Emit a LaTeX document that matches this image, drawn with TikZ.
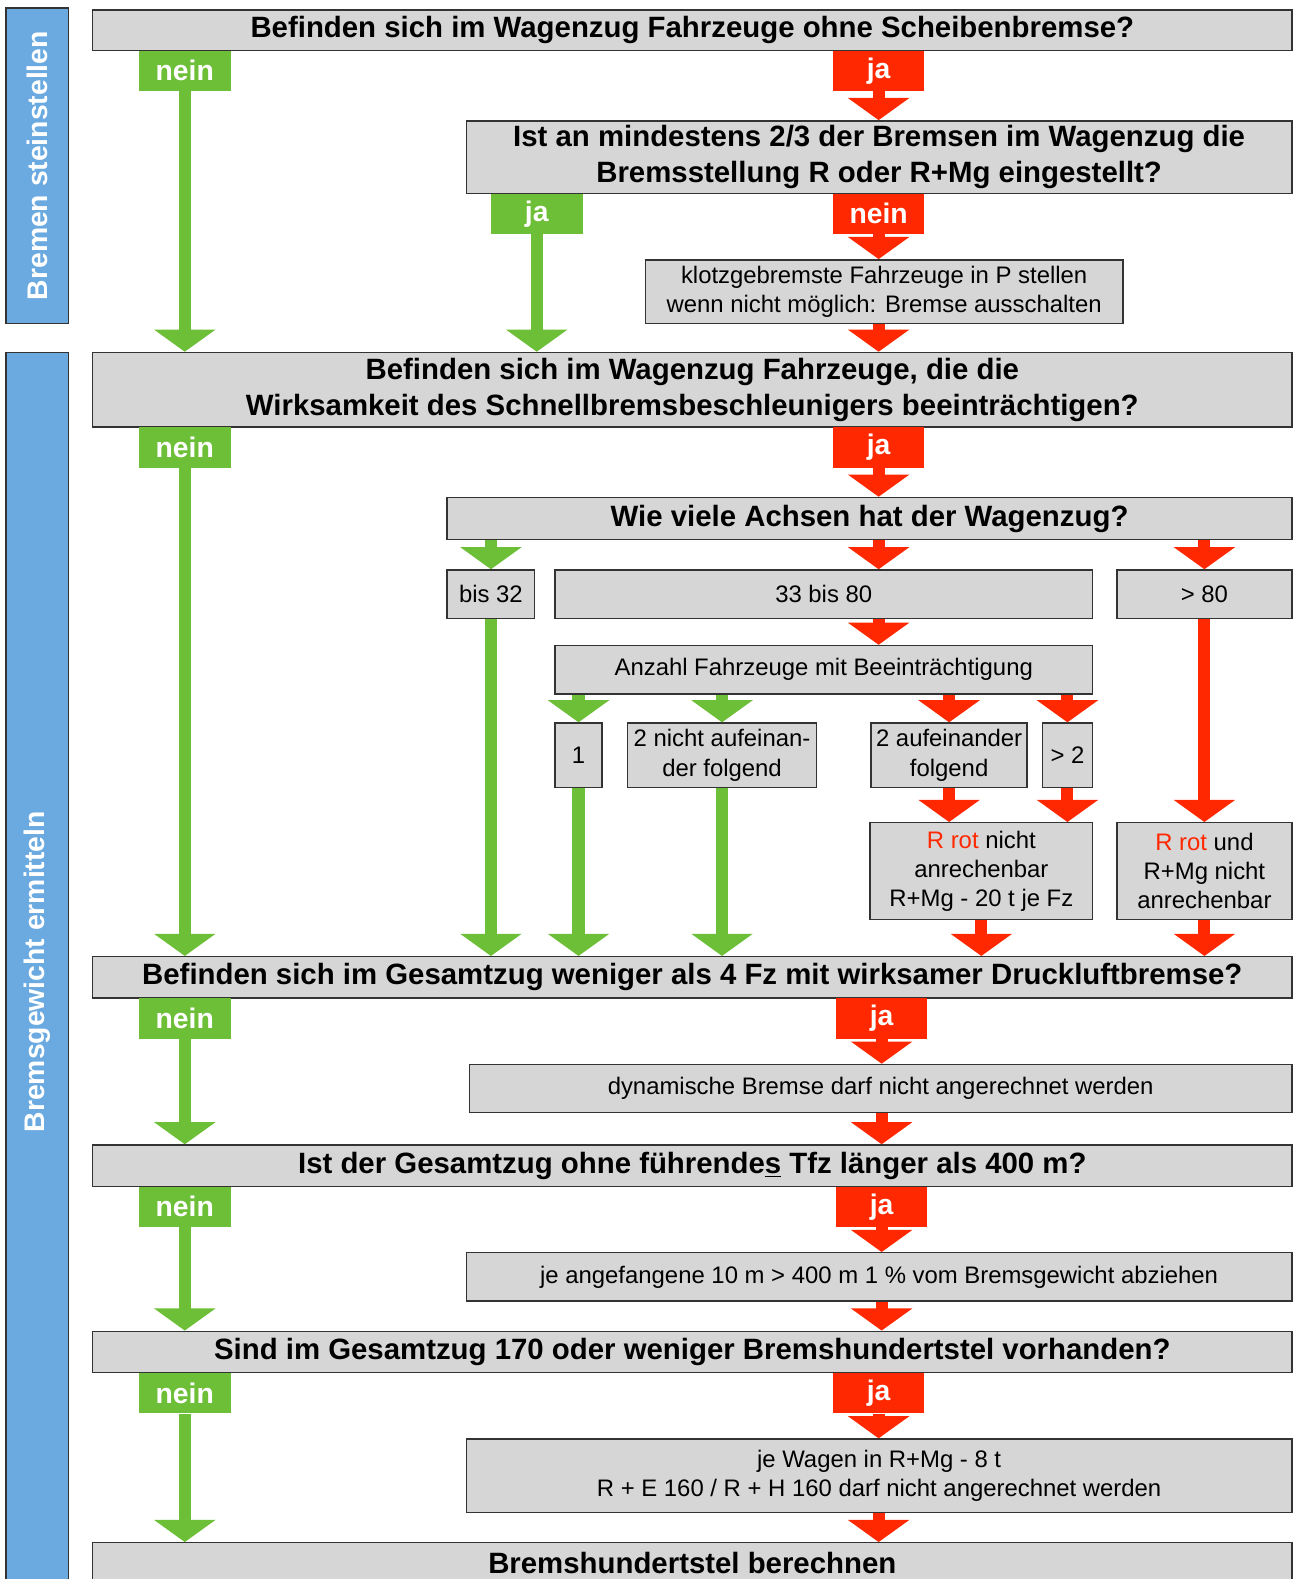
\documentclass[tikz,border=0pt]{standalone}
\usepackage{fontspec}
\setmainfont{Liberation Sans}
\usepackage{tikz}
\usetikzlibrary{arrows.meta}
\definecolor{boxfill}{HTML}{D6D6D6}
\definecolor{boxline}{HTML}{333333}
\definecolor{greenok}{HTML}{6CBF37}
\definecolor{redstop}{HTML}{FF2800}
\definecolor{phaseblue}{HTML}{6AAAE0}

\begin{document}
\begin{tikzpicture}[
    box/.style={rectangle, draw=boxline, fill=boxfill, line width=0.8pt, align=center, inner sep=0pt, font=\fontsize{13.5}{16.5}\selectfont},
    question/.style={box, font=\bfseries\fontsize{16.6}{20.2}\selectfont},
    phase/.style={rectangle, draw=boxline, fill=phaseblue, line width=0.8pt, text=white, inner sep=0pt, rotate=90, minimum height=1.24cm, font=\bfseries\fontsize{16}{19}\selectfont},
    glabel/.style={rectangle, fill=greenok, text=white, anchor=north, inner sep=0pt, minimum width=1.82cm, minimum height=0.8cm, font=\bfseries\fontsize{16}{19}\selectfont},
    rlabel/.style={glabel, fill=redstop},
    garrow/.style={draw=greenok, line width=0.24cm, -{Triangle[width=1.2cm,length=0.44cm]}},
    rarrow/.style={draw=redstop, line width=0.24cm, -{Triangle[width=1.2cm,length=0.44cm]}}
]
\useasboundingbox (0,0) rectangle (25.7,-31.36);

\node[phase, minimum width=6.26cm] (ph1) at (0.74,-3.29) {Bremen steinstellen};
\node[phase, minimum width=24.6cm] (ph2) at (0.74,-19.3) {Bremsgewicht ermitteln};

\node[question, minimum width=23.82cm, minimum height=0.8cm] (q1) at (13.75,-0.6) {Befinden sich im Wagenzug Fahrzeuge ohne Scheibenbremse?};
\node[glabel] (n1) at (3.67,-1.0) {nein};
\node[rlabel] (j1) at (17.45,-1.0) {ja};

\node[question, minimum width=16.4cm, minimum height=1.44cm] (q2) at (17.46,-3.12) {Ist an mindestens 2/3 der Bremsen im Wagenzug die\\Bremsstellung R oder R+Mg eingestellt?};
\node[glabel] (j2) at (10.66,-3.84) {ja};
\node[rlabel] (n2) at (17.45,-3.84) {nein};
\node[box, minimum width=9.48cm, minimum height=1.26cm] (a1) at (17.56,-5.79) {klotzgebremste Fahrzeuge in P stellen\\wenn nicht möglich: Bremse ausschalten};

\node[question, minimum width=23.82cm, minimum height=1.48cm] (q3) at (13.75,-7.74) {Befinden sich im Wagenzug Fahrzeuge, die die\\Wirksamkeit des Schnellbremsbeschleunigers beeinträchtigen?};
\node[glabel] (n3) at (3.67,-8.48) {nein};
\node[rlabel] (j3) at (17.45,-8.48) {ja};

\node[question, minimum width=16.78cm, minimum height=0.84cm] (q4) at (17.27,-10.3) {Wie viele Achsen hat der Wagenzug?};
\node[box, minimum width=1.74cm, minimum height=0.96cm] (b32) at (9.75,-11.8) {bis 32};
\node[box, minimum width=10.68cm, minimum height=0.96cm] (m3380) at (16.36,-11.8) {33 bis 80};
\node[box, minimum width=3.48cm, minimum height=0.96cm] (g80) at (23.92,-11.8) {> 80};
\node[box, minimum width=10.68cm, minimum height=0.96cm] (anz) at (16.36,-13.3) {Anzahl Fahrzeuge mit Beeinträchtigung};
\node[box, minimum width=0.94cm, minimum height=1.28cm] (c1) at (11.49,-15.0) {1};
\node[box, minimum width=3.76cm, minimum height=1.28cm] (c2) at (14.34,-15.0) {2 nicht aufeinan-\\der folgend};
\node[box, minimum width=3.1cm, minimum height=1.28cm] (c3) at (18.85,-15.0) {2 aufeinander\\folgend};
\node[box, minimum width=1.0cm, minimum height=1.28cm] (c4) at (21.2,-15.0) {> 2};
\node[box, minimum width=4.42cm, minimum height=1.92cm] (r1) at (19.49,-17.3) {{\color{redstop}R rot} nicht\\anrechenbar\\R+Mg - 20 t je Fz};
\node[box, minimum width=3.48cm, minimum height=1.92cm] (r2) at (23.92,-17.3) {{\color{redstop}R rot} und\\R+Mg nicht\\anrechenbar};

\node[question, minimum width=23.82cm, minimum height=0.82cm] (q5) at (13.75,-19.41) {Befinden sich im Gesamtzug weniger als 4 Fz mit wirksamer Druckluftbremse?};
\node[glabel] (n5) at (3.67,-19.82) {nein};
\node[rlabel] (j5) at (17.51,-19.82) {ja};
\node[box, minimum width=16.34cm, minimum height=0.96cm] (a2) at (17.49,-21.62) {dynamische Bremse darf nicht angerechnet werden};

\node[question, minimum width=23.82cm, minimum height=0.82cm] (q6) at (13.75,-23.15) {Ist der Gesamtzug ohne führende\underline{s} Tfz länger als 400 m?};
\node[glabel] (n6) at (3.67,-23.56) {nein};
\node[rlabel] (j6) at (17.51,-23.56) {ja};
\node[box, minimum width=16.4cm, minimum height=0.96cm] (a3) at (17.46,-25.36) {je angefangene 10 m > 400 m 1 \% vom Bremsgewicht abziehen};

\node[question, minimum width=23.82cm, minimum height=0.82cm] (q7) at (13.75,-26.85) {Sind im Gesamtzug 170 oder weniger Bremshundertstel vorhanden?};
\node[glabel] (n7) at (3.67,-27.26) {nein};
\node[rlabel] (j7) at (17.45,-27.26) {ja};
\node[box, minimum width=16.4cm, minimum height=1.46cm] (a4) at (17.46,-29.31) {je Wagen in R+Mg - 8 t\\R + E 160 / R + H 160 darf nicht angerechnet werden};

\node[question, minimum width=23.82cm, minimum height=0.8cm] (q8) at (13.75,-31.04) {Bremshundertstel berechnen};

\coordinate (spine) at (17.45,0);

\draw[garrow] (n1.south) -- (n1.south |- q3.north);
\draw[rarrow] (j1.south) -- (j1.south |- q2.north);
\draw[garrow] (j2.south) -- (j2.south |- q3.north);
\draw[rarrow] (n2.south) -- (n2.south |- a1.north);
\draw[rarrow] (spine |- a1.south) -- (spine |- q3.north);

\draw[garrow] (n3.south) -- (n3.south |- q5.north);
\draw[rarrow] (j3.south) -- (j3.south |- q4.north);
\draw[garrow] (b32.north |- q4.south) -- (b32.north);
\draw[rarrow] (spine |- q4.south) -- (spine |- m3380.north);
\draw[rarrow] (g80.north |- q4.south) -- (g80.north);
\draw[garrow] (b32.south) -- (b32.south |- q5.north);
\draw[rarrow] (spine |- m3380.south) -- (spine |- anz.north);
\draw[garrow] (c1.north |- anz.south) -- (c1.north);
\draw[garrow] (c2.north |- anz.south) -- (c2.north);
\draw[rarrow] (c3.north |- anz.south) -- (c3.north);
\draw[rarrow] (c4.north |- anz.south) -- (c4.north);
\draw[garrow] (c1.south) -- (c1.south |- q5.north);
\draw[garrow] (c2.south) -- (c2.south |- q5.north);
\draw[rarrow] (c3.south) -- (c3.south |- r1.north);
\draw[rarrow] (c4.south) -- (c4.south |- r1.north);
\draw[rarrow] (g80.south) -- (r2.north);
\draw[rarrow] (r1.south) -- (r1.south |- q5.north);
\draw[rarrow] (r2.south) -- (r2.south |- q5.north);

\draw[garrow] (n5.south) -- (n5.south |- q6.north);
\draw[rarrow] (j5.south) -- (j5.south |- a2.north);
\draw[rarrow] (j5.south |- a2.south) -- (j5.south |- q6.north);

\draw[garrow] (n6.south) -- (n6.south |- q7.north);
\draw[rarrow] (j6.south) -- (j6.south |- a3.north);
\draw[rarrow] (j6.south |- a3.south) -- (j6.south |- q7.north);

\draw[garrow] (n7.south) -- (n7.south |- q8.north);
\draw[rarrow] (j7.south) -- (j7.south |- a4.north);
\draw[rarrow] (j7.south |- a4.south) -- (j7.south |- q8.north);

\end{tikzpicture}
\end{document}
